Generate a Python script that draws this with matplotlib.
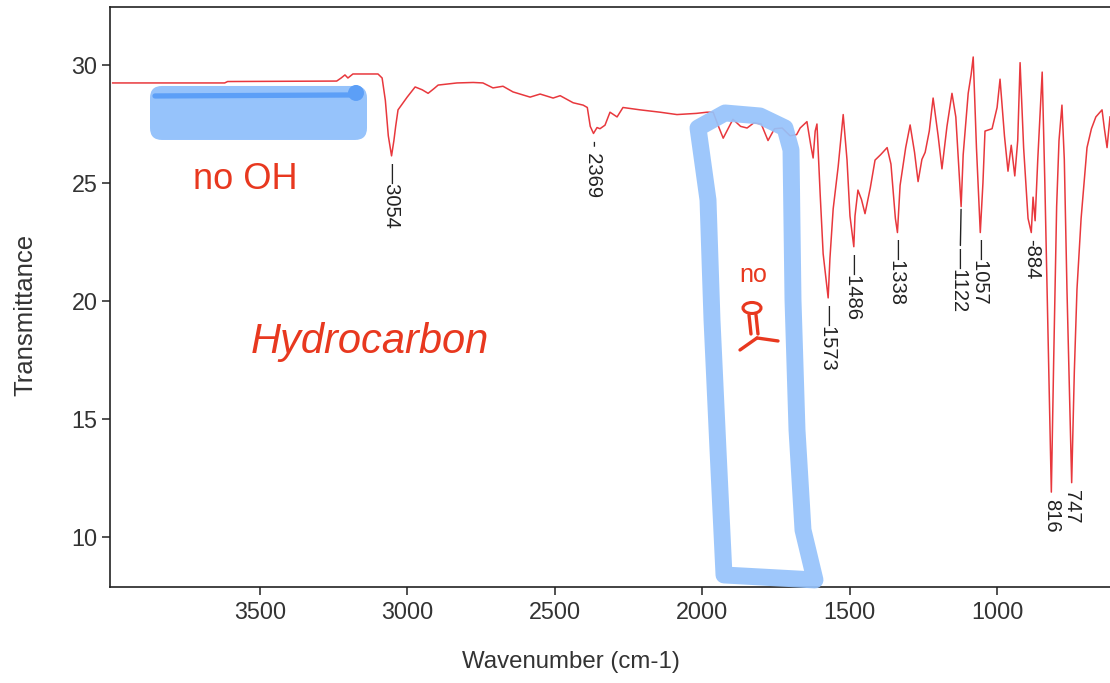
import matplotlib
matplotlib.use("Agg")
import matplotlib.pyplot as plt
from matplotlib.patches import FancyBboxPatch, PathPatch, Ellipse
from matplotlib.path import Path
from matplotlib.lines import Line2D

plt.rcParams['font.family'] = ['Liberation Sans', 'DejaVu Sans']

# ---- spectrum data (wavenumber cm-1, transmittance) ----
wavenumber = [4000, 3620, 3610, 3240, 3225, 3212, 3202, 3185, 3100, 3086, 3075, 3065,
              3054, 3046, 3040, 3032, 3015, 3001, 2974, 2950, 2930, 2910, 2896, 2832,
              2777, 2744, 2710, 2676, 2642, 2584, 2550, 2506, 2482, 2438, 2404, 2390,
              2380, 2369, 2357, 2347, 2330, 2313, 2289, 2269, 2211, 2143, 2086, 2020,
              1984, 1963, 1945, 1929, 1896, 1870, 1848, 1825, 1800, 1777, 1755, 1729,
              1702, 1680, 1668, 1645, 1632, 1624, 1617, 1611, 1600, 1590, 1573, 1567,
              1556, 1539, 1522, 1509, 1499, 1486, 1482, 1472, 1460, 1448, 1430, 1414,
              1395, 1373, 1360, 1345, 1338, 1329, 1310, 1295, 1280, 1268, 1255, 1244,
              1230, 1217, 1200, 1187, 1170, 1153, 1140, 1122, 1115, 1098, 1088, 1081,
              1070, 1057, 1048, 1041, 1017, 1000, 990, 975, 963, 952, 940, 930,
              922, 910, 895, 884, 878, 871, 862, 847, 838, 828, 816, 808,
              798, 790, 780, 772, 763, 747, 738, 729, 715, 695, 680, 665,
              644, 636, 627, 617]
transmittance = [29.24, 29.24, 29.30, 29.32, 29.45, 29.58, 29.45, 29.62, 29.62, 29.45, 28.5, 27.0,
                 26.15, 26.8, 27.4, 28.1, 28.4, 28.64, 29.07, 28.95, 28.8, 29.0, 29.15, 29.24,
                 29.26, 29.24, 29.03, 29.1, 28.86, 28.64, 28.77, 28.6, 28.7, 28.4, 28.3, 28.2,
                 27.4, 27.1, 27.35, 27.3, 27.45, 28.0, 27.8, 28.2, 28.1, 28.0, 27.9, 27.95,
                 28.0, 28.0, 27.4, 26.9, 27.7, 27.4, 27.33, 27.55, 27.5, 26.8, 27.3, 27.33,
                 27.0, 27.05, 27.33, 27.6, 26.6, 26.06, 27.2, 27.5, 24.5, 22.0, 20.13, 21.8,
                 23.9, 25.7, 27.9, 25.97, 23.6, 22.3, 23.6, 24.7, 24.3, 23.7, 24.8, 25.97,
                 26.2, 26.5, 25.8, 23.5, 22.9, 24.9, 26.5, 27.46, 26.3, 25.06, 26.0, 26.3,
                 27.2, 28.6, 27.0, 25.6, 27.4, 28.8, 27.8, 24.0, 26.2, 28.8, 29.6, 30.34,
                 26.5, 22.9, 25.0, 27.2, 27.3, 28.2, 29.4, 27.0, 25.5, 26.6, 25.3, 26.8,
                 30.1, 26.5, 23.5, 22.9, 24.4, 23.4, 26.0, 29.7, 25.0, 19.0, 11.9, 17.5,
                 24.0, 26.8, 28.3, 26.0, 20.5, 12.3, 17.0, 20.5, 23.5, 26.5, 27.3, 27.8,
                 28.1, 27.3, 26.5, 27.8]

# peak labels
peak_positions = [3054, 2369, 1573, 1486, 1338, 1122, 1057, 884, 816, 747]
peak_labels = ["\u20143054", "- 2369", "\u20141573", "\u20141486", "\u20141338",
               "\u20141122", "\u20141057", "-884", "816", "747"]

x_ticks = [3500, 3000, 2500, 2000, 1500, 1000]
y_ticks = [10, 15, 20, 25, 30]

RED = '#e8383d'
HAND = '#e8381f'
BLUE = '#96c3fb'

fig = plt.figure(figsize=(11.1, 6.83), dpi=100)
ax = fig.add_axes([0.0991, 0.1406, 0.9009, 0.8492])

ax.plot(wavenumber, transmittance, color=RED, lw=1.1, zorder=2)
ax.set_xlim(4009, 617)
ax.set_ylim(7.88, 32.46)
ax.set_xticks(x_ticks)
ax.set_yticks(y_ticks)

for s in ['left', 'bottom', 'top']:
    ax.spines[s].set_linewidth(1.2)
    ax.spines[s].set_color('#222222')
ax.spines['right'].set_visible(False)
ax.tick_params(axis='both', direction='out', length=6, width=1.1,
               labelsize=16.8, labelcolor='#333333', color='#222222')
ax.tick_params(axis='x', pad=4)
ax.tick_params(axis='y', pad=3)

ax.set_xlabel("Wavenumber (cm-1)", fontsize=17.3, color='#333333')
ax.set_ylabel("Transmittance", fontsize=18.5, color='#333333')
ax.xaxis.set_label_coords(0.461, -0.110)
ax.yaxis.set_label_coords(-0.073, 0.469)

lookup = dict(zip(wavenumber, transmittance))
for wn, lab in zip(peak_positions, peak_labels):
    t = lookup[wn]
    if wn == 1122:
        ax.annotate(lab, xy=(wn, t), xytext=(-1, -30), textcoords='offset points',
                    rotation=270, ha='center', va='top', fontsize=14.5, color='#222222',
                    arrowprops=dict(arrowstyle='-', color='#222222', lw=1.0,
                                    shrinkA=0, shrinkB=2))
    else:
        ax.annotate(lab, xy=(wn, t), xytext=(0, -5), textcoords='offset points',
                    rotation=270, ha='center', va='top', fontsize=14.5, color='#222222')

# ---- hand-drawn annotations (positions in axes fraction) ----
def fx(px):
    return (px - 110) / 1000.0

def fy(py):
    return (587 - py) / 580.0

band = FancyBboxPatch((fx(150), fy(140)), fx(367) - fx(150), fy(86) - fy(140),
                      boxstyle="round,pad=0,rounding_size=0.012", mutation_aspect=1000 / 580,
                      transform=ax.transAxes, facecolor=BLUE, edgecolor='none', zorder=3)
ax.add_patch(band)
ax.add_line(Line2D([fx(155), fx(352)], [fy(96), fy(95)], transform=ax.transAxes,
                   color='#5c9ff7', lw=3.8, solid_capstyle='round', zorder=4))
ax.add_patch(Ellipse((fx(356), fy(93)), 16 / 1000, 16 / 580, transform=ax.transAxes,
                     facecolor='#5c9ff7', edgecolor='none', zorder=4))

box_pts = [(698, 128), (708, 200), (712, 320), (718, 450), (724, 575), (815, 580),
           (803, 530), (797, 430), (793, 300), (791, 150), (785, 128), (760, 116),
           (725, 113), (698, 128)]
verts = [(fx(a), fy(b)) for a, b in box_pts]
codes = [Path.MOVETO] + [Path.LINETO] * (len(verts) - 2) + [Path.CLOSEPOLY]
ax.add_patch(PathPatch(Path(verts, codes), transform=ax.transAxes, facecolor='none',
                       edgecolor=BLUE, lw=12.2, joinstyle='round', capstyle='round',
                       alpha=0.92, zorder=3, clip_on=False))

ax.text(fx(245), fy(180), "no OH", transform=ax.transAxes, ha='center', va='center',
        fontsize=26, color=HAND, zorder=5)
ax.text(fx(370), fy(342), "Hydrocarbon", transform=ax.transAxes, ha='center', va='center',
        fontsize=30, color=HAND, style='italic', zorder=5)
ax.text(fx(753), fy(275), "no", transform=ax.transAxes, ha='center', va='center',
        fontsize=18, color=HAND, zorder=5)
ax.add_patch(Ellipse((fx(752), fy(308)), 18 / 1000, 11 / 580, transform=ax.transAxes,
                     facecolor='none', edgecolor=HAND, lw=2.2, zorder=5))
for seg in [((749, 315), (751, 334)), ((756, 315), (758, 334)),
            ((757, 338), (740, 350)), ((757, 338), (778, 341))]:
    (a, b), (c, d) = seg
    ax.add_line(Line2D([fx(a), fx(c)], [fy(b), fy(d)], transform=ax.transAxes,
                       color=HAND, lw=2.4, solid_capstyle='round', zorder=5))

fig.savefig("out.png", dpi=100)
